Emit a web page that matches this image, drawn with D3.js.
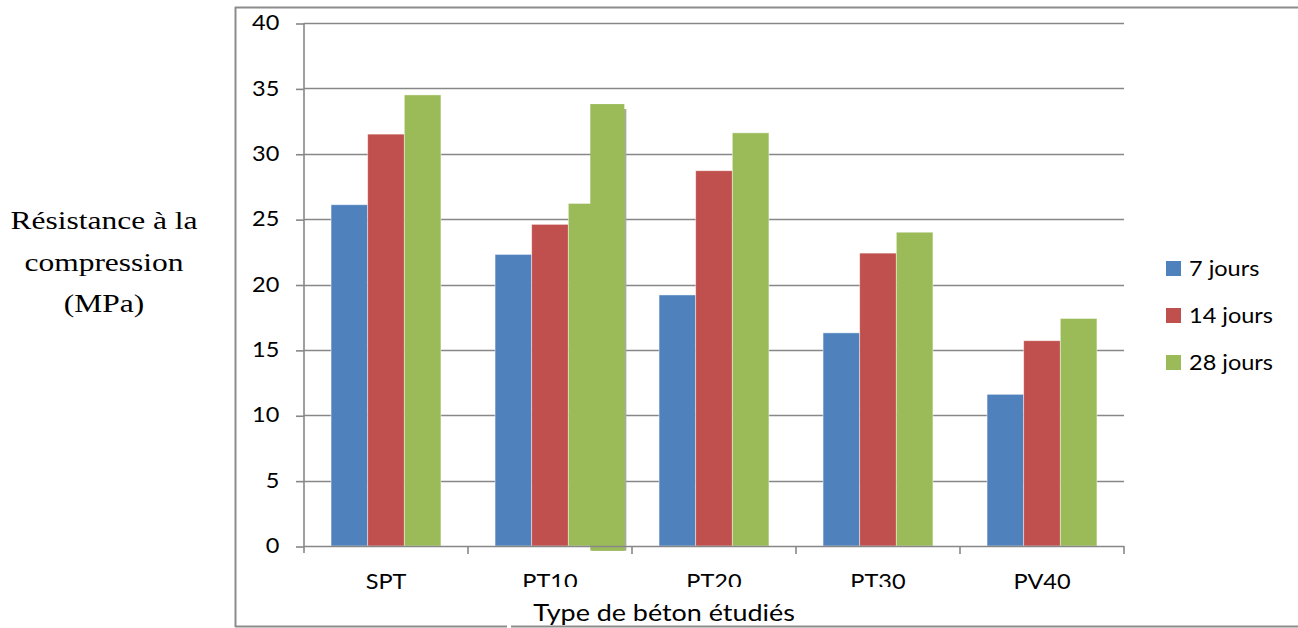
<!DOCTYPE html>
<html>
<head>
<meta charset="utf-8">
<script src="https://cdn.jsdelivr.net/npm/d3@7/dist/d3.min.js"></script>
<style>
  html, body { margin: 0; padding: 0; background: #fff; }
  svg { display: block; }
  text { font-family: Lato, "Open Sans", sans-serif; fill: #000; }
</style>
</head>
<body>
<svg id="chart" width="1298" height="628"></svg>
<script>
// ---- data ----
const categories = ["SPT", "PT10", "PT20", "PT30", "PV40"];
const seriesNames = ["7 jours", "14 jours", "28 jours"];
const jours7  = [26.1, 22.3, 19.2, 16.3, 11.6];
const jours14 = [31.5, 24.6, 28.7, 22.4, 15.7];
const jours28 = [34.5, 26.2, 31.6, 24.0, 17.4];
// pasted correction bar visible over the PT10 group
const patchCategory = ["PT10"];
const patchValue = [33.8];
const yTicks = [0, 5, 10, 15, 20, 25, 30, 35, 40];
const colors = ["#4f81bd", "#c0504d", "#9bbb59"];

const seriesValues = [jours7, jours14, jours28];

const svg = d3.select("#chart");
const W = 1298, H = 628;
const SX = 1.12; // horizontal stretch of the original picture's text

const margin = { left: 304, right: 1124, top: 23, bottom: 546 };

const x = d3.scaleBand().domain(categories).range([margin.left, margin.right]).paddingInner(0).paddingOuter(0);
const x1 = d3.scaleBand().domain(seriesNames)
  .range([x.bandwidth() * 0.165, x.bandwidth() * 0.835]).paddingInner(0).paddingOuter(0);
const y = d3.scaleLinear().domain([0, 40]).range([margin.bottom, margin.top]);

const gridColor = "#878787";

function stretchedText(parent, tx, ty, str, size, anchor, sx) {
  return parent.append("text")
    .attr("transform", `translate(${tx},${ty}) scale(${sx},1)`)
    .attr("text-anchor", anchor)
    .style("font-size", size + "px")
    .text(str);
}

// outer frame
svg.append("line").attr("x1", 235.5).attr("x2", 235.5).attr("y1", 7).attr("y2", 627)
  .attr("stroke", "#8c8c8c").attr("stroke-width", 2);
svg.append("line").attr("x1", 235).attr("x2", W).attr("y1", 7.5).attr("y2", 7.5)
  .attr("stroke", "#8c8c8c").attr("stroke-width", 2);
svg.append("line").attr("x1", 235).attr("x2", 507).attr("y1", 626.5).attr("y2", 626.5)
  .attr("stroke", "#8c8c8c").attr("stroke-width", 2);
svg.append("line").attr("x1", 511).attr("x2", W).attr("y1", 626.5).attr("y2", 626.5)
  .attr("stroke", "#8c8c8c").attr("stroke-width", 2);

// gridlines
svg.append("g")
  .selectAll("line").data(yTicks.filter(d => d !== 0)).join("line")
  .attr("x1", margin.left).attr("x2", margin.right)
  .attr("y1", d => Math.round(y(d)) + 0.5).attr("y2", d => Math.round(y(d)) + 0.5)
  .attr("stroke", gridColor).attr("stroke-width", 1.6);

// y axis
const yAxis = d3.axisLeft(y).tickValues(yTicks).tickSize(8).tickPadding(14).tickFormat(d3.format("d"));
const gy = svg.append("g").attr("transform", `translate(${margin.left},0)`).call(yAxis);
gy.select(".domain").remove();
gy.selectAll(".tick line").attr("stroke", gridColor).attr("stroke-width", 1.6)
  .attr("transform", "translate(0,0.5)");
gy.selectAll(".tick text").style("font-size", "21px").style("font-family", "Lato, sans-serif")
  .attr("fill", "#000").attr("transform", `scale(${SX},1)`);
svg.append("line").attr("x1", margin.left).attr("x2", margin.left)
  .attr("y1", margin.top).attr("y2", margin.bottom + 7)
  .attr("stroke", gridColor).attr("stroke-width", 1.6);

// bars
const groups = svg.append("g").selectAll("g").data(categories).join("g")
  .attr("transform", d => `translate(${x(d)},0)`);
groups.selectAll("rect")
  .data((c, i) => seriesNames.map((s, j) => ({ s, j, v: seriesValues[j][i] })))
  .join("rect")
  .attr("x", d => x1(d.s))
  .attr("width", x1.bandwidth())
  .attr("y", d => y(d.v))
  .attr("height", d => y(0) - y(d.v))
  .attr("fill", d => colors[d.j])
  .attr("stroke", "rgba(255,255,255,0.55)")
  .attr("stroke-width", 0.8);

// pasted patch bar (with its shadow)
const bw = x1.bandwidth();
patchCategory.forEach((c, i) => {
  const px = x(c) + x1("28 jours") + bw * 0.6;
  const pw = bw * 0.93;
  svg.append("rect")
    .attr("x", px + 2).attr("y", y(patchValue[i]) + 5)
    .attr("width", pw).attr("height", y(-0.36) - y(patchValue[i]) - 5)
    .attr("fill", "#a4ad8e");
  svg.append("rect")
    .attr("x", px).attr("y", y(patchValue[i]))
    .attr("width", pw).attr("height", y(-0.36) - y(patchValue[i]))
    .attr("fill", "#9bbb59");
});

// x axis
const gx = svg.append("g").attr("transform", `translate(0,${margin.bottom})`);
gx.append("line").attr("x1", margin.left).attr("x2", margin.right).attr("y1", 0.5).attr("y2", 0.5)
  .attr("stroke", gridColor).attr("stroke-width", 1.6);
const boundaries = categories.map(c => x(c)).concat([x(categories[categories.length - 1]) + x.bandwidth()]);
gx.selectAll("line.tk").data(boundaries.slice(1)).join("line").attr("class", "tk")
  .attr("x1", d => d).attr("x2", d => d).attr("y1", 0).attr("y2", 8)
  .attr("stroke", gridColor).attr("stroke-width", 1.6);
categories.forEach(c => {
  stretchedText(gx, x(c) + x.bandwidth() / 2, 43, c, 21, "middle", SX);
});

// x title with white box that clips the labels above it
svg.append("rect").attr("x", 511).attr("y", 587).attr("width", 380).attr("height", 38).attr("fill", "#fff");
stretchedText(svg, 664, 621, "Type de béton étudiés", 23, "middle", 1.17);

// y title (serif)
["Résistance à la", "compression", "(MPa)"].forEach((t, i) => {
  stretchedText(svg, 104, 229 + i * 41.5, t, 25, "middle", 1.26)
    .style("font-family", "'Liberation Serif', 'Times New Roman', serif");
});

// legend
const lg = svg.append("g").attr("transform", "translate(1166,261)");
seriesNames.forEach((s, i) => {
  const g = lg.append("g").attr("transform", `translate(0,${i * 47})`);
  g.append("rect").attr("width", 15).attr("height", 15).attr("fill", colors[i]);
  stretchedText(g, 23, 15, s, 21, "start", SX);
});
</script>
</body>
</html>
